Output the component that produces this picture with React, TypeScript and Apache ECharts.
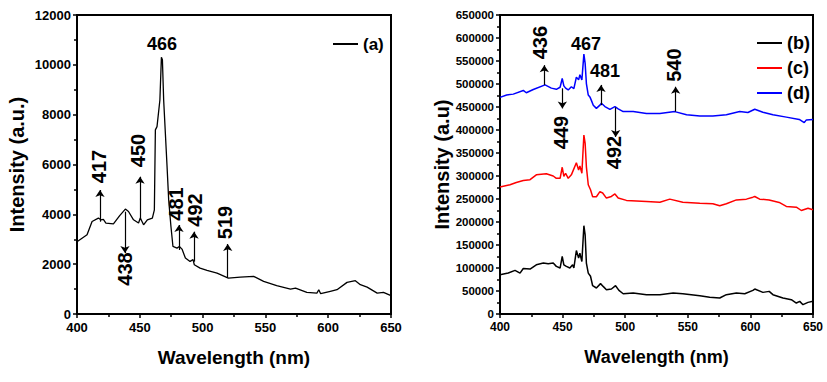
import React, { useEffect, useRef } from "react";
import * as echarts from "echarts";

// ---------- data (a) ----------
const wlA = [400, 408, 412, 417, 419, 421, 423, 429, 434, 438.5, 441, 445, 449, 450.4, 453, 456, 460, 461.6, 462.4, 463.7, 466, 467.2, 468, 469, 471.7, 473, 474.8, 476.4, 479.6, 481.5, 483.6, 486.3, 490, 492.4, 493.4, 498, 503.5, 511.5, 520.5, 530, 540.6, 548.6, 559, 570, 574, 583, 591, 592.5, 594, 601.7, 607, 615, 621.6, 625.6, 631, 639, 644, 650];
const intA = [2900, 3180, 3714, 3850, 3780, 3800, 3650, 3620, 3950, 4210, 4115, 3780, 3650, 3850, 3580, 3780, 3850, 4180, 7390, 7520, 8590, 10300, 10200, 8590, 5920, 4580, 3510, 2710, 2645, 2712, 2605, 2245, 2110, 2180, 1977, 1840, 1750, 1640, 1440, 1480, 1510, 1310, 1135, 1000, 1040, 870, 840, 975, 815, 910, 975, 1270, 1336, 1175, 1080, 840, 870, 735];

// ---------- data (b), (c), (d) ----------
const wlB = [400, 406.6, 412, 416, 418.6, 424, 429, 434.6, 438.5, 442.5, 445, 448, 449.7, 451, 453, 455.8, 458, 459, 461, 462.8, 463.8, 465.4, 467, 468, 469, 470.5, 472.3, 474, 477, 480.3, 482.4, 485, 489, 492.3, 495, 498.4, 506.4, 517, 527.7, 538.3, 546, 559.6, 567.5, 575.5, 580.8, 588.8, 595.5, 602, 603.5, 610, 615, 618, 626, 632.7, 636.7, 639.4, 642, 646, 650];
const intB = [85400, 89000, 94800, 89000, 99000, 97700, 107000, 110700, 109300, 110700, 103500, 99900, 125000, 107000, 103500, 99900, 107000, 100000, 138000, 121600, 132000, 114000, 192000, 172000, 110700, 89000, 82000, 61500, 56500, 66000, 60000, 52800, 54300, 61500, 51400, 44000, 45600, 42000, 42000, 45600, 44000, 39800, 36200, 34700, 42000, 45600, 44000, 51400, 54300, 47000, 49200, 42000, 34700, 31100, 23900, 27500, 20300, 25300, 27500];

const wlC = [400, 408, 413, 418.6, 424, 429, 437, 442.5, 445, 448, 449.7, 451, 452.4, 454.5, 457, 461, 462.8, 463.8, 465.4, 467, 468, 469, 470.5, 472.3, 474, 477, 479.8, 482, 485, 489, 491.8, 494.4, 501, 517, 527.7, 535.6, 546, 559.6, 570, 575.5, 580.8, 588.8, 596.8, 602, 603.5, 607.4, 615, 623, 628.7, 636.7, 640.7, 646, 650];
const intC = [276000, 281000, 286000, 290000, 292000, 302500, 305000, 300000, 295000, 295000, 319000, 299000, 306000, 295000, 302500, 329000, 313000, 322000, 306000, 389000, 371000, 320000, 281000, 270000, 255000, 255000, 266000, 263000, 252000, 255500, 261000, 252000, 247000, 244600, 243000, 249700, 243000, 241000, 239600, 235200, 239600, 248000, 249700, 254000, 255500, 249700, 248000, 242500, 233800, 232300, 225000, 230000, 226500];

const wlD = [400, 405.3, 410.6, 418.6, 421, 426.6, 436, 441, 445, 448, 449.7, 451, 452.4, 454.5, 457, 459, 461, 462.8, 463.8, 465.4, 467, 468, 469, 470.5, 471.8, 472.9, 474.5, 477, 479.8, 481, 483.8, 487.8, 491.8, 494.4, 498.4, 506.4, 517, 527.7, 539.6, 549, 559.6, 570, 580.8, 591.5, 598, 603.5, 610, 618, 628.7, 639, 643, 644.7, 650];
const intD = [471000, 476000, 478000, 486000, 481000, 488000, 498000, 491000, 488500, 493000, 512000, 496000, 491000, 487000, 494000, 490000, 515000, 509000, 520000, 509000, 565000, 545000, 501000, 476000, 472000, 465000, 454000, 447000, 454000, 458000, 451000, 445000, 451000, 446000, 440000, 440000, 436000, 436000, 440000, 433000, 430500, 430500, 433000, 440000, 438000, 445000, 438600, 433000, 428000, 423000, 416000, 422000, 423000];

// ---------- tick values ----------
const xTicks = [400, 450, 500, 550, 600, 650];
const yTicksA = [0, 2000, 4000, 6000, 8000, 10000, 12000];
const yTicksR = [0, 50000, 100000, 150000, 200000, 250000, 300000, 350000, 400000, 450000, 500000, 550000, 600000, 650000];

// ---------- annotations: [text, wavelength, intensity, rotation] ----------
const labelsA: [string, number, number, number][] = [
  ["466", 467.7, 10835, 0],
  ["417", 417.5, 5920, 90],
  ["450", 448.6, 6560, 90],
  ["438", 438.2, 1806, 90],
  ["481", 479.2, 4414, 90],
  ["492", 494, 4174, 90],
  ["519", 518.2, 3672, 90],
];
// [wavelength, from intensity, arrow-head intensity]
const arrowsA: [number, number, number][] = [
  [418.3, 3704, 4976],
  [450.2, 3772, 5510],
  [438.2, 4105, 2448],
  [481.2, 2568, 3572],
  [493.2, 2100, 3304],
  [520, 1445, 2809],
];
const labelsR: [string, number, number, number][] = [
  ["436", 432, 590000, 90],
  ["467", 468.7, 587000, 0],
  ["481", 483.9, 529000, 0],
  ["540", 539, 541000, 90],
  ["449", 449, 394600, 90],
  ["492", 491, 351000, 90],
];
const arrowsR: [number, number, number][] = [
  [435.4, 498000, 541000],
  [449.8, 490600, 447000],
  [480.7, 454000, 498000],
  [492.4, 449000, 385000],
  [540.3, 440000, 494000],
];

const zip = (xs: number[], ys: number[]) => xs.map((x, i) => [x, ys[i]]);
const FONT = "Arial, 'Liberation Sans', sans-serif";
const plain = (v: number) => String(v);

function xAxisCfg(gridIndex: number, labelSize: number) {
  return {
    type: "value",
    gridIndex,
    min: 400,
    max: 650,
    interval: 50,
    name: "Wavelength (nm)",
    nameLocation: "middle",
    nameGap: 34,
    nameTextStyle: { fontFamily: FONT, fontWeight: "bold", fontSize: gridIndex === 0 ? 19 : 18, color: "#000" },
    axisLine: { show: true, lineStyle: { color: "#000", width: 2 } },
    axisTick: { show: true, length: 4, lineStyle: { color: "#000", width: 1.5 } },
    minorTick: { show: true, splitNumber: 2, length: 3, lineStyle: { color: "#000", width: 1.5 } },
    splitLine: { show: false },
    axisLabel: {
      fontFamily: FONT,
      fontWeight: "bold",
      fontSize: labelSize,
      color: "#000",
      margin: 7,
      formatter: plain,
    },
  };
}

function yAxisCfg(gridIndex: number, max: number, interval: number, name: string, gap: number, labelSize: number) {
  return {
    type: "value",
    gridIndex,
    min: 0,
    max,
    interval,
    name,
    nameLocation: "middle",
    nameGap: gap,
    nameTextStyle: { fontFamily: FONT, fontWeight: "bold", fontSize: 20, color: "#000" },
    axisLine: { show: true, lineStyle: { color: "#000", width: 2 } },
    axisTick: { show: true, length: 4, lineStyle: { color: "#000", width: 1.5 } },
    minorTick: { show: true, splitNumber: 2, length: 3, lineStyle: { color: "#000", width: 1.5 } },
    splitLine: { show: false },
    axisLabel: {
      fontFamily: FONT,
      fontWeight: "bold",
      fontSize: labelSize,
      color: "#000",
      margin: 6,
      formatter: plain,
    },
  };
}

function annotSeries(idx: number, labels: [string, number, number, number][], arrows: [number, number, number][]) {
  const labelBase = {
    show: true,
    position: "inside",
    fontFamily: FONT,
    fontWeight: "bold",
    color: "#000",
    opacity: 1,
    textBorderWidth: 0,
    textBorderColor: "transparent",
    textShadowBlur: 0,
  };
  return {
    type: "scatter",
    name: "annot" + idx,
    xAxisIndex: idx,
    yAxisIndex: idx,
    symbolSize: 1,
    itemStyle: { color: "#fff", opacity: 1 },
    silent: true,
    z: 5,
    label: { ...labelBase, fontSize: 20, formatter: (p: any) => p.data.txt },
    labelLayout: { hideOverlap: false },
    data: labels.map(([t, x, y, r]) => ({
      value: [x, y],
      txt: t,
      label: { ...labelBase, rotate: r, fontSize: r ? 20 : 18, formatter: t },
    })),
    markLine: {
      silent: true,
      symbol: ["none", "arrow"],
      symbolSize: 7,
      label: { show: false },
      itemStyle: { color: "#000" },
      lineStyle: { color: "#000", width: 1.2, type: "solid", opacity: 1 },
      emphasis: { disabled: true },
      data: arrows.map(([x, y1, y2]) => [{ coord: [x, y1] }, { coord: [x, y2] }]),
    },
  };
}

function lineSeries(name: string, idx: number, data: number[][], color: string, width: number) {
  return {
    type: "line",
    name,
    xAxisIndex: idx,
    yAxisIndex: idx,
    data,
    symbol: "none",
    showSymbol: false,
    lineStyle: { color, width },
    itemStyle: { color },
    z: 3,
  };
}

export default function App() {
  const ref = useRef<HTMLDivElement>(null);
  useEffect(() => {
    if (!ref.current) return;
    const chart = echarts.init(ref.current, undefined, { renderer: "svg" });
    const legendText = { fontFamily: FONT, fontWeight: "bold", fontSize: 18, color: "#000", lineHeight: 20 };
    chart.setOption({
      animation: false,
      backgroundColor: "#fff",
      grid: [
        { left: 77, top: 15, width: 314, height: 299, show: true, borderColor: "#000", borderWidth: 2 },
        { left: 500, top: 15, width: 313, height: 299, show: true, borderColor: "#000", borderWidth: 2 },
      ],
      xAxis: [xAxisCfg(0, 13), xAxisCfg(1, 12)],
      yAxis: [
        yAxisCfg(0, 12000, 2000, "Intensity (a.u.)", 50, 13),
        yAxisCfg(1, 650000, 50000, "Intensity (a.u)", 48, 11.5),
      ],
      legend: [
        {
          data: ["(a)"],
          left: 328,
          top: 29,
          icon: "rect",
          itemWidth: 25,
          itemHeight: 2,
          itemGap: 5,
          textStyle: { ...legendText, fontSize: 17 },
        },
        {
          data: ["(b)", "(c)", "(d)"],
          orient: "vertical",
          left: 752,
          top: 28,
          icon: "rect",
          itemWidth: 25,
          itemHeight: 2,
          itemGap: 5,
          textStyle: legendText,
        },
      ],
      series: [
        lineSeries("(a)", 0, zip(wlA, intA), "#000", 1.3),
        lineSeries("(b)", 1, zip(wlB, intB), "#000", 1.5),
        lineSeries("(c)", 1, zip(wlC, intC), "#ff0000", 1.5),
        lineSeries("(d)", 1, zip(wlD, intD), "#0000ff", 1.5),
        annotSeries(0, labelsA, arrowsA),
        annotSeries(1, labelsR, arrowsR),
      ],
    });
    return () => chart.dispose();
  }, []);
  return <div ref={ref} style={{ position: "fixed", left: 0, top: 0, width: 827, height: 382, background: "#fff" }} />;
}
